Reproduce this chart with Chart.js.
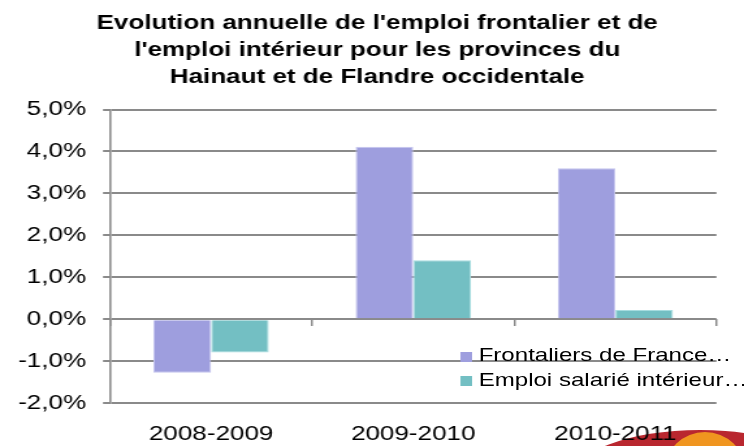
<!DOCTYPE html>
<html lang="fr">
<head>
    <meta charset="UTF-8">
    <title>Evolution annuelle de l'emploi frontalier</title>
    <script src="https://cdn.jsdelivr.net/npm/chart.js"></script>
    <style>
        body { margin: 0; background: #fff; overflow: hidden; }
        .page { position: relative; width: 744px; height: 446px; overflow: hidden; }
        /* the original picture is stretched horizontally, so the chart is drawn narrower and widened */
        .stretch { position: absolute; left: 0; top: 0; width: 572px; height: 446px; transform: scaleX(1.3007); transform-origin: 0 0; z-index: 1; }
        .legend { position: absolute; left: 354px; top: 343px; font: 18.5px "Liberation Sans", Arial, sans-serif; color: #000; }
        .legend-row { display: flex; align-items: center; height: 24.5px; white-space: nowrap; }
        .legend-box { width: 9px; height: 10px; margin: 3px 5px 0 0; }
        .blob { position: absolute; border-radius: 50%; z-index: 0; }
        .blob-red { left: 570px; top: 430px; width: 260px; height: 100px; background: #b9272f; }
        .blob-orange { left: 665px; top: 432px; width: 80px; height: 76px; background: #f0951f; }
    </style>
</head>
<body>
    <div class="page">
        <div class="blob blob-red"></div>
        <div class="blob blob-orange"></div>
        <div class="stretch">
            <canvas id="chart" width="572" height="446"></canvas>
            <div class="legend" id="legend"></div>
        </div>
    </div>

    <script>
        const periodes = ['2008-2009', '2009-2010', '2010-2011'];
        const frontaliers = [-1.27, 4.11, 3.60];
        const emploiInterieur = [-0.79, 1.41, 0.22];
        const yTicks = [-2, -1, 0, 1, 2, 3, 4, 5];

        const seriesNames = ['Frontaliers de France…', 'Emploi salarié intérieur…'];
        const seriesColors = ['#9e9ede', '#73bfc3'];
        const titleLines = [
            "Evolution annuelle de l'emploi frontalier et de",
            "l'emploi intérieur pour les provinces du",
            "Hainaut et de Flandre occidentale"
        ];

        const fontFamily = '"Liberation Sans", Arial, sans-serif';
        const gridGray = '#8a8a8a';

        const chart = new Chart(document.getElementById('chart'), {
            type: 'bar',
            data: {
                labels: periodes,
                datasets: [
                    {
                        label: seriesNames[0],
                        data: frontaliers,
                        backgroundColor: seriesColors[0],
                        borderColor: '#c4c4ee',
                        borderWidth: 1
                    },
                    {
                        label: seriesNames[1],
                        data: emploiInterieur,
                        backgroundColor: seriesColors[1],
                        borderColor: '#a6dcdf',
                        borderWidth: 1
                    }
                ]
            },
            options: {
                responsive: false,
                animation: false,
                categoryPercentage: 0.57,
                barPercentage: 1,
                layout: { padding: { left: 8, right: 0, top: 0, bottom: 0 } },
                plugins: {
                    legend: { display: false },
                    tooltip: { enabled: false },
                    title: {
                        display: true,
                        text: titleLines,
                        color: '#000',
                        font: { family: fontFamily, size: 20, weight: 'bold', lineHeight: 27 / 20 },
                        padding: { top: 9.5, bottom: 19 }
                    }
                },
                scales: {
                    x: {
                        afterFit: (scale) => { scale.height = 42.7; },
                        grid: { display: false, drawTicks: false },
                        border: { display: false },
                        ticks: { color: '#000', padding: 19, font: { family: fontFamily, size: 20 } }
                    },
                    x2: {
                        axis: 'x',
                        type: 'category',
                        position: { y: 0 },
                        offset: true,
                        afterFit: (scale) => { scale.height = 0; },
                        grid: { offset: true, drawOnChartArea: false, drawTicks: true, tickLength: 7, color: gridGray, lineWidth: 1.5 },
                        border: { display: false },
                        ticks: { display: false }
                    },
                    y: {
                        min: -2,
                        max: 5,
                        afterBuildTicks: (scale) => { scale.ticks = yTicks.map(v => ({ value: v })); },
                        afterFit: (scale) => { scale.width = 84.6 - 8; },
                        grid: { color: gridGray, lineWidth: 2, tickLength: 5.4 },
                        border: { color: gridGray, width: 1.6 },
                        ticks: {
                            color: '#000',
                            padding: 13,
                            font: { family: fontFamily, size: 20 },
                            callback: (v) => v.toFixed(1).replace('.', ',') + '%'
                        }
                    },
                    // empty strip on the right, keeps the plot narrower than the title
                    yRight: {
                        axis: 'y',
                        type: 'linear',
                        position: 'right',
                        afterFit: (scale) => { scale.width = 21.2; },
                        grid: { display: false, drawTicks: false },
                        border: { display: false },
                        ticks: { display: false }
                    }
                }
            }
        });

        // legend sitting inside the plot, bottom right
        const legend = document.getElementById('legend');
        chart.data.datasets.forEach(ds => {
            const row = document.createElement('div');
            row.className = 'legend-row';
            row.innerHTML = `<span class="legend-box" style="background:${ds.backgroundColor}"></span><span>${ds.label}</span>`;
            legend.appendChild(row);
        });
    </script>
</body>
</html>
